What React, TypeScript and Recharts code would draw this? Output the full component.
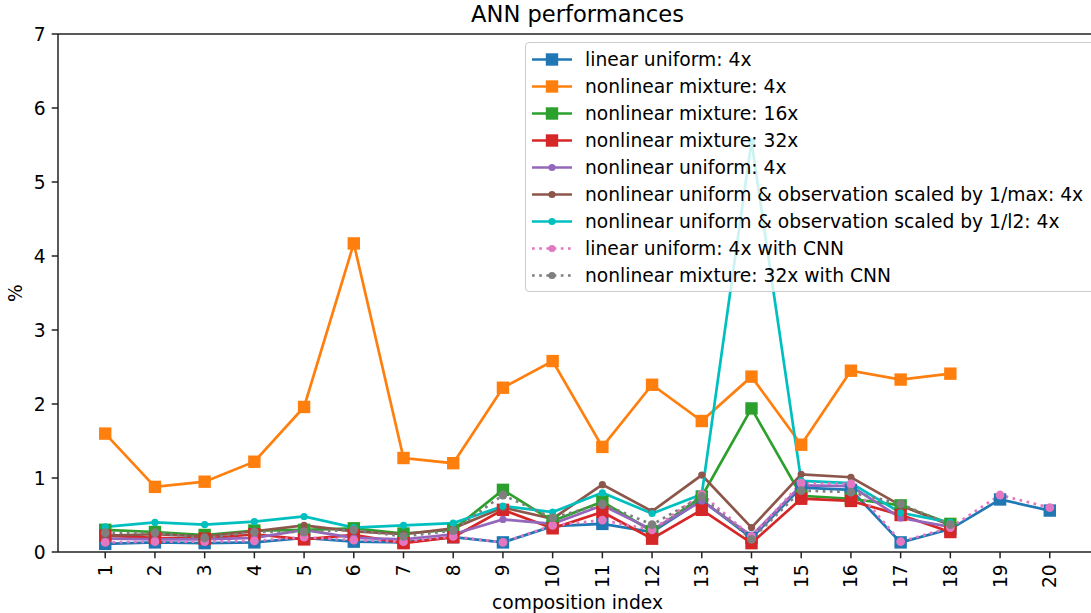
import React from 'react';
import {
  LineChart, Line, XAxis, YAxis, ReferenceLine, Legend, Label,
} from 'recharts';

// x positions (composition index) and y ticks
const compositionIndex = [1, 2, 3, 4, 5, 6, 7, 8, 9, 10, 11, 12, 13, 14, 15, 16, 17, 18, 19, 20];
const yTicks = [0, 1, 2, 3, 4, 5, 6, 7];

// error in % (null = not evaluated)
const linearUniform4x = [0.11, 0.13, 0.12, 0.13, 0.19, 0.14, 0.13, 0.20, 0.13, 0.35, 0.38, 0.27, 0.70, 0.19, 0.87, 0.84, 0.13, 0.31, 0.71, 0.56];
const nonlinearMixture4x = [1.60, 0.88, 0.95, 1.22, 1.96, 4.17, 1.27, 1.20, 2.22, 2.58, 1.42, 2.26, 1.77, 2.37, 1.45, 2.45, 2.33, 2.41, null, null];
const nonlinearMixture16x = [0.30, 0.27, 0.23, 0.29, 0.30, 0.32, 0.25, 0.30, 0.84, 0.42, 0.68, 0.28, 0.75, 1.94, 0.76, 0.72, 0.63, 0.38, null, null];
const nonlinearMixture32x = [0.22, 0.19, 0.18, 0.24, 0.17, 0.23, 0.12, 0.20, 0.57, 0.32, 0.54, 0.18, 0.57, 0.12, 0.72, 0.69, 0.50, 0.27, null, null];
const nonlinearUniform4x = [0.18, 0.17, 0.17, 0.19, 0.30, 0.19, 0.17, 0.24, 0.44, 0.38, 0.63, 0.30, 0.69, 0.22, 0.90, 0.89, 0.46, 0.34, null, null];
const scaledByMax4x = [0.22, 0.24, 0.21, 0.28, 0.36, 0.28, 0.24, 0.32, 0.60, 0.45, 0.91, 0.55, 1.04, 0.33, 1.05, 1.01, 0.63, 0.36, null, null];
const scaledByL2_4x = [0.34, 0.40, 0.37, 0.41, 0.48, 0.33, 0.36, 0.39, 0.62, 0.54, 0.80, 0.52, 0.78, 5.55, 0.96, 0.93, 0.53, 0.40, null, null];
const linearUniform4xCnn = [0.13, 0.14, 0.14, 0.15, 0.20, 0.16, 0.14, 0.21, 0.13, 0.36, 0.43, 0.30, 0.78, 0.21, 0.93, 0.92, 0.14, 0.33, 0.77, 0.60];
const nonlinearMixture32xCnn = [0.26, 0.26, 0.19, 0.27, 0.27, 0.30, 0.21, 0.29, 0.77, 0.46, 0.65, 0.37, 0.75, 0.17, 0.83, 0.81, 0.65, 0.37, null, null];

const FONT = '"DejaVu Sans", sans-serif';
const AXIS = '#222';
const FS = 18.7;

type Marker = 'square' | 'dot';
const series: { key: string; name: string; color: string; marker: Marker; dotted?: boolean; values: (number | null)[] }[] = [
  { key: 's0', name: 'linear uniform: 4x', color: '#1f77b4', marker: 'square', values: linearUniform4x },
  { key: 's1', name: 'nonlinear mixture: 4x', color: '#ff7f0e', marker: 'square', values: nonlinearMixture4x },
  { key: 's2', name: 'nonlinear mixture: 16x', color: '#2ca02c', marker: 'square', values: nonlinearMixture16x },
  { key: 's3', name: 'nonlinear mixture: 32x', color: '#d62728', marker: 'square', values: nonlinearMixture32x },
  { key: 's4', name: 'nonlinear uniform: 4x', color: '#9467bd', marker: 'dot', values: nonlinearUniform4x },
  { key: 's5', name: 'nonlinear uniform & observation scaled by 1/max: 4x', color: '#8c564b', marker: 'dot', values: scaledByMax4x },
  { key: 's6', name: 'nonlinear uniform & observation scaled by 1/l2: 4x', color: '#00bfbf', marker: 'dot', values: scaledByL2_4x },
  { key: 's7', name: 'linear uniform: 4x with CNN', color: '#e377c2', marker: 'dot', dotted: true, values: linearUniform4xCnn },
  { key: 's8', name: 'nonlinear mixture: 32x with CNN', color: '#7f7f7f', marker: 'dot', dotted: true, values: nonlinearMixture32xCnn },
];

const rows = compositionIndex.map((c, i) => {
  const r: Record<string, number | null> = { idx: c };
  series.forEach((s) => { r[s.key] = s.values[i]; });
  return r;
});

const makeDot = (color: string, marker: Marker, dotted?: boolean) => (props: any) => {
  const { cx, cy, index } = props;
  if (cx == null || cy == null || props.value == null) return <g key={index} />;
  if (marker === 'square') {
    return <rect key={index} x={cx - 6.2} y={cy - 6.2} width={12.4} height={12.4} fill={color} />;
  }
  return <circle key={index} cx={cx} cy={cy} r={dotted ? 4.4 : 3.6} fill={color} />;
};

const XTick = (props: any) => {
  const { x, y, payload } = props;
  return (
    <text
      x={x} y={y} transform={`rotate(-90, ${x}, ${y})`}
      textAnchor="end" dominantBaseline="central"
      fontSize={FS} fontFamily={FONT} fill="#000"
    >
      {payload.value}
    </text>
  );
};

const LegendBox = () => (
  <div
    style={{
      width: 600, height: 250, boxSizing: 'border-box', padding: '3px 0 0 6px',
      border: '1px solid #cccccc', borderRadius: 4, background: 'rgba(255,255,255,0.8)',
      fontFamily: FONT, fontSize: FS, color: '#000',
    }}
  >
    {series.map((s) => (
      <div key={s.key} style={{ display: 'flex', alignItems: 'center', height: 27, whiteSpace: 'nowrap' }}>
        <svg width={40} height={27} style={{ marginRight: 13, flex: 'none' }}>
          <line
            x1={0} y1={13.5} x2={40} y2={13.5} stroke={s.color} strokeWidth={2.7}
            strokeDasharray={s.dotted ? '2.7 4.5' : undefined}
          />
          {s.marker === 'square'
            ? <rect x={13.8} y={7.3} width={12.4} height={12.4} fill={s.color} />
            : <circle cx={20} cy={13.5} r={3.6} fill={s.color} />}
        </svg>
        <span>{s.name}</span>
      </div>
    ))}
  </div>
);

export default function App() {
  return (
    <div style={{ position: 'absolute', left: 0, top: 0, width: 1091, height: 613, overflow: 'hidden', background: '#fff' }}>
      <LineChart
        width={1100} height={613} data={rows}
        margin={{ top: 34, right: 3, bottom: 0, left: 0 }}
        style={{ fontFamily: FONT }}
      >
        <XAxis
          dataKey="idx" type="number" domain={[0.05, 20.95]} ticks={compositionIndex} interval={0}
          allowDataOverflow height={61} tickSize={6.3} tickMargin={6}
          axisLine={{ stroke: AXIS, strokeWidth: 1.5 }} tickLine={{ stroke: AXIS, strokeWidth: 1.5 }}
          tick={<XTick />}
        >
          <Label value="composition index" position="insideBottom" offset={4} fontSize={FS} fontFamily={FONT} fill="#000" />
        </XAxis>
        <YAxis
          type="number" domain={[0, 7]} ticks={yTicks} interval={0} width={58}
          tickSize={6.3} tickMargin={6}
          axisLine={{ stroke: AXIS, strokeWidth: 1.5 }} tickLine={{ stroke: AXIS, strokeWidth: 1.5 }}
          tick={{ fontSize: FS, fontFamily: FONT, fill: '#000' }}
        >
          <Label
            content={(p: any) => {
              const cy = p.viewBox.y + p.viewBox.height / 2;
              return (
                <text x={15} y={cy} transform={`rotate(-90, 15, ${cy})`} textAnchor="middle"
                  dominantBaseline="central" fontSize={FS} fontFamily={FONT} fill="#000">%</text>
              );
            }}
          />
        </YAxis>
        <ReferenceLine y={7} stroke={AXIS} strokeWidth={1.5}>
          <Label value="ANN performances" position="top" offset={12} fontSize={22.6} fontFamily={FONT} fill="#000" />
        </ReferenceLine>
        {series.map((s) => (
          <Line
            key={s.key} dataKey={s.key} name={s.name} stroke={s.color} strokeWidth={2.7}
            strokeDasharray={s.dotted ? '2.7 4.5' : undefined}
            dot={makeDot(s.color, s.marker, s.dotted)} activeDot={false}
            isAnimationActive={false} connectNulls={false}
          />
        ))}
        <Legend
          layout="vertical" align="center" verticalAlign="middle"
          wrapperStyle={{ left: 525, top: 42, width: 600 }}
          content={<LegendBox />}
        />
      </LineChart>
    </div>
  );
}
